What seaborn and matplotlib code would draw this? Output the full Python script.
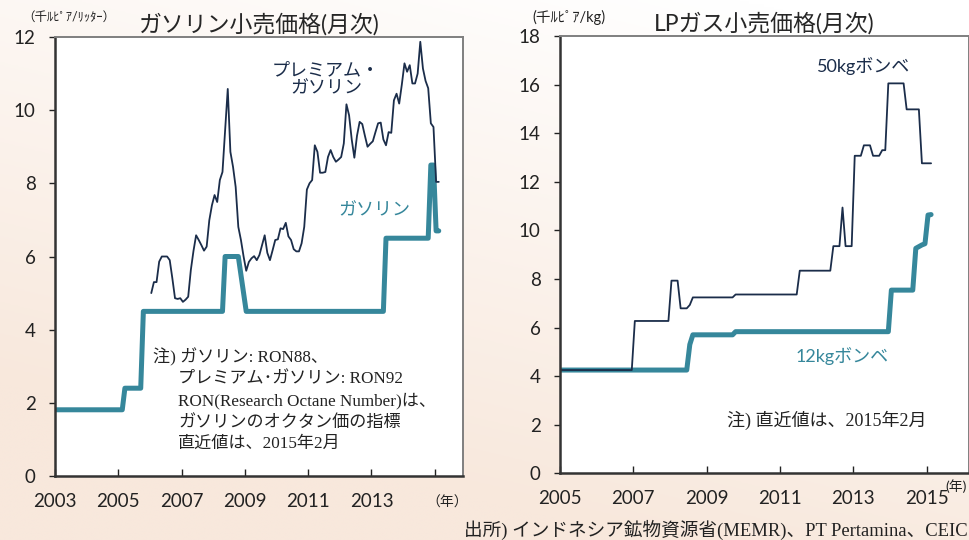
"""Indonesia: gasoline and LPG retail prices (monthly), two panels."""
import numpy as np
import pandas as pd
import matplotlib
matplotlib.use("Agg")
import matplotlib.pyplot as plt
import seaborn as sns

# --- data (thousand rupiah) ---
premium_start = "2006-01"
premium_vals = [
    5.00, 5.30, 5.30, 5.86, 6.00, 6.00, 6.00, 5.90, 5.40, 4.86, 4.84, 4.86,
    4.76, 4.82, 4.90, 5.63, 6.15, 6.58, 6.45, 6.31, 6.16, 6.27, 6.99, 7.40,
    7.68, 7.49, 8.09, 8.31, 9.45, 10.58, 8.86, 8.45, 7.90, 6.81, 6.45, 6.00,
    5.61, 5.85, 5.95, 6.01, 5.90, 6.04, 6.31, 6.58, 6.10, 5.90, 6.17, 6.45,
    6.47, 6.77, 6.75, 6.92, 6.55, 6.45, 6.20, 6.14, 6.14, 6.36, 6.81, 7.83,
    8.00, 8.09, 9.04, 8.86, 8.29, 8.29, 8.31, 8.72, 8.91, 8.72, 8.59, 8.65,
    8.72, 9.09, 10.16, 9.86, 9.20, 8.70, 9.30, 9.68, 9.62, 9.30, 9.00, 9.08,
    9.15, 9.40, 9.64, 9.66, 9.20, 9.04, 9.40, 9.38, 10.27, 10.45, 10.18, 10.70,
    11.28, 11.05, 11.23, 10.73, 10.73, 11.00, 11.87, 11.14, 10.80, 10.60, 9.64, 9.54,
    8.04, 8.04,
]

gasoline_months = ["2003-01", "2005-02", "2005-03", "2005-09", "2005-10", "2008-04",
                   "2008-05", "2008-10", "2008-11", "2008-12", "2009-01", "2013-05",
                   "2013-06", "2014-10", "2014-11", "2014-12", "2015-01", "2015-02"]
gasoline_vals = [1.81, 1.81, 2.40, 2.40, 4.50, 4.50,
                 6.00, 6.00, 5.50, 5.00, 4.50, 4.50,
                 6.50, 6.50, 8.50, 8.50, 6.70, 6.70]

lpg12_months = ["2005-01", "2008-06", "2008-07", "2008-08", "2009-09", "2009-10",
                "2013-12", "2014-01", "2014-08", "2014-09", "2014-10", "2014-11",
                "2014-12", "2015-01", "2015-02"]
lpg12_vals = [4.25, 4.25, 5.30, 5.70, 5.70, 5.83,
              5.83, 7.54, 7.54, 9.26, 9.33, 9.40,
              9.45, 10.63, 10.65]

lpg50_months = ["2005-01", "2006-12", "2007-01", "2007-12", "2008-01", "2008-03",
                "2008-04", "2008-06", "2008-07", "2008-08", "2009-09", "2009-10",
                "2011-06", "2011-07", "2012-05", "2012-06", "2012-08", "2012-09",
                "2012-10", "2012-12", "2013-01", "2013-03", "2013-04", "2013-06",
                "2013-07", "2013-09", "2013-10", "2013-11", "2013-12", "2014-05",
                "2014-06", "2014-10", "2014-11", "2015-02"]
lpg50_vals = [4.25, 4.25, 6.27, 6.27, 7.93, 7.93,
              6.79, 6.79, 6.93, 7.24, 7.24, 7.36,
              7.36, 8.34, 8.34, 9.35, 9.35, 10.94,
              9.35, 9.35, 13.07, 13.07, 13.50, 13.50,
              13.07, 13.07, 13.30, 13.30, 16.05, 16.05,
              14.98, 14.98, 12.76, 12.76]

left_years = [2003, 2005, 2007, 2009, 2011, 2013, 2015]
right_years = [2005, 2007, 2009, 2011, 2013, 2015]

NAVY = "#1b2d4a"
TEAL = "#36879b"
INK = "#222222"


def to_year(months):
    p = pd.PeriodIndex(months, freq="M")
    return p.year + (p.month - 0.5) / 12


premium_x = to_year(pd.period_range(premium_start, periods=len(premium_vals), freq="M"))

sns.set_style("ticks")
plt.rcParams["font.family"] = ["Lato", "Noto Sans CJK JP", "DejaVu Sans"]
MIX_SERIF = ["Liberation Serif", "Noto Sans CJK JP"]

fig = plt.figure(figsize=(9.7, 5.4), dpi=100)

# background wash
bg = fig.add_axes([0, 0, 1, 1], zorder=-10)
yy, xx = np.mgrid[0:1:200j, 0:1:200j]
t = np.clip(1.2 * (0.8 * yy + 0.35 * (1 - xx)) - 0.1, 0, 1)[..., None]
top = np.array([1.0, 1.0, 1.0])
bottom = np.array([248, 232, 220]) / 255
bg.imshow(top * (1 - t) + bottom * t, aspect="auto", extent=[0, 1, 0, 1])
bg.axis("off")

axL = fig.add_axes([55 / 970, 64 / 540, 408 / 970, 439 / 540])
axR = fig.add_axes([560 / 970, 66.7 / 540, 409 / 970, 437.3 / 540])

# left panel
sns.lineplot(x=to_year(gasoline_months), y=gasoline_vals, ax=axL, color=TEAL,
             linewidth=3.6, estimator=None, sort=False,
             solid_capstyle="round", solid_joinstyle="round")
sns.lineplot(x=premium_x, y=premium_vals, ax=axL, color=NAVY, linewidth=1.3,
             estimator=None, sort=False)
axL.set_xlim(2003, 2003 + 408 / 31.65)
axL.set_ylim(0, 12)
axL.set_yticks(range(0, 13, 2))
axL.set_xticks(left_years)
axL.set_xticklabels([str(y) if y != 2015 else "" for y in left_years])
axL.set_title("ガソリン小売価格(月次)", fontsize=16.5, pad=4)

# right panel
sns.lineplot(x=to_year(lpg12_months), y=lpg12_vals, ax=axR, color=TEAL,
             linewidth=3.6, estimator=None, sort=False,
             solid_capstyle="round", solid_joinstyle="round")
sns.lineplot(x=to_year(lpg50_months), y=lpg50_vals, ax=axR, color=NAVY, linewidth=1.3,
             estimator=None, sort=False)
axR.set_xlim(2005, 2005 + 409 / 36.65)
axR.set_ylim(0, 18)
axR.set_yticks(range(0, 19, 2))
axR.set_xticks(right_years)
axR.set_title("LPガス小売価格(月次)", fontsize=16.5, pad=4)

for ax in (axL, axR):
    ax.set_facecolor("white")
    ax.set_xlabel("")
    ax.set_ylabel("")
    for side in ("left", "bottom"):
        ax.spines[side].set_color("#333333")
        ax.spines[side].set_linewidth(1.8)
    for side in ("top", "right"):
        ax.spines[side].set_visible(True)
        ax.spines[side].set_color("#7f7f7f")
        ax.spines[side].set_linewidth(1.4)
    ax.tick_params(axis="x", direction="in", length=5, width=1, pad=12,
                   labelsize=13.5, colors=INK)
    ax.tick_params(axis="y", direction="out", length=4, width=1, pad=10,
                   labelsize=13.5, colors=INK)

# series labels
axL.text(2011.56, 10.83, "プレミアム・\nガソリン", color=NAVY, fontsize=13,
         ha="center", va="center", linespacing=1.15)
axL.text(2013.08, 7.27, "ガソリン", color=TEAL, fontsize=13, ha="center", va="center")
axR.text(2013.28, 16.76, "50kgボンベ", color=NAVY, fontsize=13, ha="center", va="center")
axR.text(2012.70, 4.83, "12kgボンベ", color=TEAL, fontsize=13, ha="center", va="center")

# units / year marks
fig.text(22 / 970, 1 - 17 / 540, "（千ﾙﾋﾟｱ/ﾘｯﾀｰ）", fontsize=9, va="center", color=INK)
fig.text(532 / 970, 1 - 17 / 540, "(千ﾙﾋﾟｱ/kg)", fontsize=10.5, va="center", color=INK)
fig.text(447 / 970, 1 - 502 / 540, "（年）", fontsize=10, ha="center", va="center", color=INK)
fig.text(956 / 970, 1 - 486 / 540, "(年)", fontsize=10, ha="center", va="center", color=INK)

# notes
left_note = ["注) ガソリン: RON88、",
             "プレミアム･ガソリン: RON92",
             "RON(Research Octane Number)は、",
             "ガソリンのオクタン価の指標",
             "直近値は、2015年2月"]
note_x = [153, 178, 178, 178, 178]
note_y = [357, 379, 401, 423, 444]
for s, px, py in zip(left_note, note_x, note_y):
    fig.text(px / 970, 1 - py / 540, s, family=MIX_SERIF, fontsize=12.3,
             va="center", color=INK)
fig.text(727 / 970, 1 - 420 / 540, "注) 直近値は、2015年2月", family=MIX_SERIF,
         fontsize=13, va="center", color=INK)
fig.text(968 / 970, 1 - 530 / 540, "出所) インドネシア鉱物資源省(MEMR)、PT Pertamina、CEIC",
         family=MIX_SERIF, fontsize=13.4, ha="right", va="center", color=INK)

fig.savefig("out.png", dpi=100)
plt.close(fig)
